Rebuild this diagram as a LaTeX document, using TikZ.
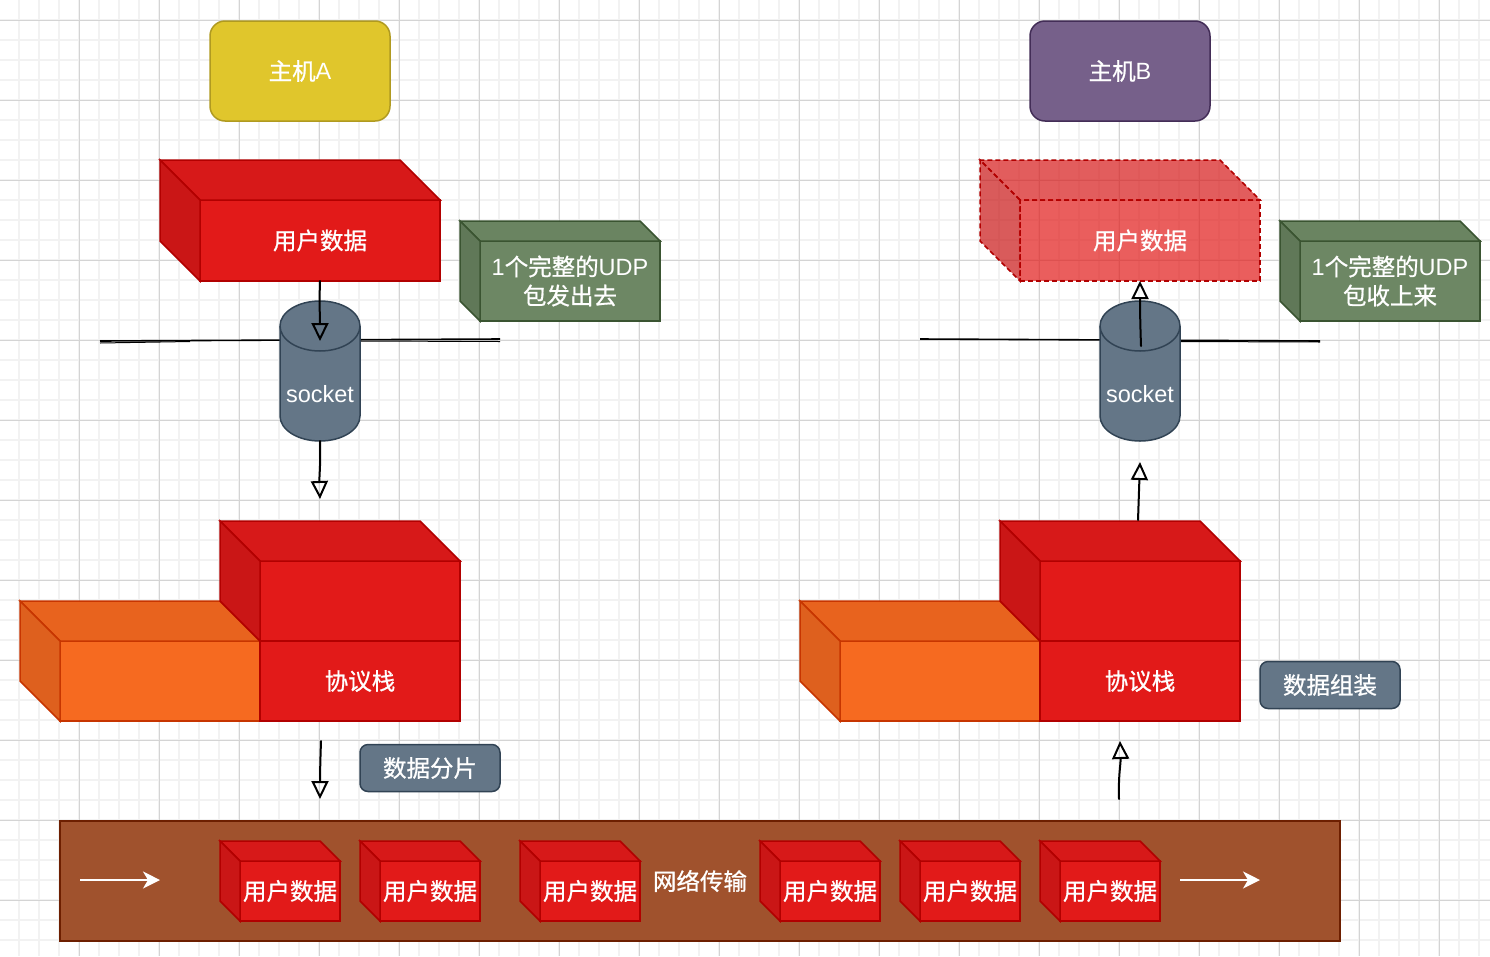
\documentclass[tikz,border=0pt]{standalone}
\usepackage{fontspec}
\setmainfont{Liberation Sans}
\newfontfamily\cjk{Noto Sans CJK SC}[FakeBold=0.8]
\usetikzlibrary{arrows.meta}
\definecolor{cRedF}{HTML}{E21A19}
\definecolor{cRedT}{HTML}{D71919}
\definecolor{cRedL}{HTML}{CA1616}
\definecolor{cRedS}{HTML}{B20000}
\definecolor{cOrgF}{HTML}{F66A20}
\definecolor{cOrgT}{HTML}{E8631E}
\definecolor{cOrgL}{HTML}{DE601E}
\definecolor{cOrgS}{HTML}{C73500}
\definecolor{cGrnF}{HTML}{6D8764}
\definecolor{cGrnT}{HTML}{6A8461}
\definecolor{cGrnL}{HTML}{607858}
\definecolor{cGrnS}{HTML}{3A5431}
\definecolor{cSlate}{HTML}{647687}
\definecolor{cSlateS}{HTML}{314354}
\definecolor{cYel}{HTML}{E0C62C}
\definecolor{cYelS}{HTML}{B09A20}
\definecolor{cPur}{HTML}{76608A}
\definecolor{cPurS}{HTML}{432D57}
\definecolor{cBrown}{HTML}{A0522D}
\definecolor{cBrownS}{HTML}{6D1F00}
\definecolor{gMinor}{HTML}{F2F2F2}
\definecolor{gMajor}{HTML}{D4D4D4}
\tikzset{
  tx/.style={text=white, font=\fontsize{23.5}{29}\selectfont, align=center},
  cubeface/.style={draw, line width=1.5pt, inner sep=0pt, outer sep=0pt, tx},
  cubeedge/.style={line width=1.5pt, line join=miter},
  gminor/.style={draw=gMinor, line width=1.2pt},
  gmajor/.style={draw=gMajor, line width=0.9pt},
  host/.style={rounded corners=15pt, line width=1.5pt, minimum width=180pt, minimum height=100pt, inner sep=0pt, tx},
  lbl/.style={rounded corners=8pt, fill=cSlate, draw=cSlateS, line width=1.5pt, minimum width=140pt, minimum height=47pt, inner sep=0pt, tx},
  skarrow/.style={draw=black, line width=2pt, line cap=round, -{Triangle[open, length=18pt, width=17pt, line width=2pt]}},
  skline/.style={draw=black, line width=1.6pt},
  warrow/.style={draw=white, line width=1.5pt, -{Stealth[length=17pt, width=17pt, inset=5pt]}},
}
% #1 name, #2 x front-left, #3 y front-top, #4 width, #5 height, #6 depth, #7 colour prefix, #8 text, #9 extra style
\newcommand{\boxcube}[9]{%
  \node[cubeface, fill=#7F, draw=#7S, minimum width=#4pt, minimum height=#5pt, anchor=north west, #9] (#1) at (#2,#3) {#8};
  \filldraw[cubeedge, fill=#7T, draw=#7S, #9] (#1.north west) -- ++(-#6,-#6) -- ([shift={(-#6,-#6)}]#1.north east) -- (#1.north east) -- cycle;
  \filldraw[cubeedge, fill=#7L, draw=#7S, #9] (#1.north west) -- ++(-#6,-#6) -- ([shift={(-#6,-#6)}]#1.south west) -- (#1.south west) -- cycle;
}
\newcommand{\sockcyl}[3]{% #1 name, #2 x centre, #3 y top
  \filldraw[fill=cSlate, draw=cSlateS, line width=1.5pt]
    (#2-40,#3+25) -- (#2-40,#3+115) arc[start angle=180, end angle=360, x radius=40pt, y radius=25pt]
    -- (#2+40,#3+25) arc[start angle=0, end angle=180, x radius=40pt, y radius=25pt] -- cycle;
  \draw[draw=cSlateS, line width=1.5pt] (#2-40,#3+25) arc[start angle=180, end angle=360, x radius=40pt, y radius=25pt];
  \node[tx, inner sep=0pt] (#1) at (#2,#3+93) {socket};
  \coordinate (#1top) at (#2,#3);
  \coordinate (#1bot) at (#2,#3+140);
}
\begin{document}
\begin{tikzpicture}[x=1pt, y=-1pt]
\useasboundingbox (0,0) rectangle (1490,956);
\fill[white] (0,0) rectangle (1490,956);
% grid
\foreach \i in {1,...,74} \draw[gminor] (\i*20-1,0) -- (\i*20-1,956);
\foreach \j in {1,...,47} \draw[gminor] (0,\j*20) -- (1490,\j*20);
\foreach \i in {1,...,18} \draw[gmajor] (\i*80-1,0) -- (\i*80-1,956);
\foreach \j in {0,...,11} \draw[gmajor] (0,\j*80+20) -- (1490,\j*80+20);

% hosts
\node[host, fill=cYel, draw=cYelS] (hostA) at (300,71) {{\cjk 主机}A};
\node[host, fill=cPur, draw=cPurS] (hostB) at (1120,71) {{\cjk 主机}B};

% ===== left side =====
\coordinate (lAs) at (100,341);
\coordinate (lAe) at (500,339);
\draw[skline] (lAs) -- (lAe);
\draw[skline, line width=1pt] (100,343) -- (190,341.5);
\draw[skline, line width=1pt] (360,341) -- (500,341.5);
\sockcyl{sockA}{320}{301}

\boxcube{udA}{200}{200}{240}{81}{40}{cRed}{{\cjk 用户数据}}{}
\boxcube{grnA}{480}{241}{180}{80}{20}{cGrn}{1{\cjk 个完整的}UDP\\{\cjk 包发出去}}{}

\boxcube{orgA}{60}{641}{200}{80}{40}{cOrg}{}{}
\boxcube{stkAu}{260}{561}{200}{80}{40}{cRed}{}{}
\node[cubeface, fill=cRedF, draw=cRedS, minimum width=200pt, minimum height=80pt, anchor=north west] (stkA) at (260,641) {{\cjk 协议栈}};

\node[lbl] (fenpian) at (430,768) {{\cjk 数据分片}};

\coordinate (a1e) at (320,341);
\coordinate (a2e) at (320,499);
\coordinate (a3s) at (321,741);
\coordinate (a3e) at (320,799);
\draw[skarrow] (udA.south) to[out=-92, in=90] (a1e);
\draw[skarrow] (sockAbot) to[out=-88, in=92] (a2e);
\draw[skarrow] (a3s) to[out=-92, in=90] (a3e);

% ===== right side =====
\coordinate (lBs) at (920,339);
\coordinate (lBe) at (1320,341);
\draw[skline] (lBs) -- (lBe);
\draw[skline, line width=1pt] (1180,341.5) -- (1320,342);
\sockcyl{sockB}{1140}{301}

\boxcube{udB}{1020}{200}{240}{81}{40}{cRed}{{\cjk 用户数据}}{fill opacity=0.7, text opacity=1, dash pattern=on 5pt off 3pt}
\boxcube{grnB}{1300}{241}{180}{80}{20}{cGrn}{1{\cjk 个完整的}UDP\\{\cjk 包收上来}}{}

\boxcube{orgB}{840}{641}{200}{80}{40}{cOrg}{}{}
\boxcube{stkBu}{1040}{561}{200}{80}{40}{cRed}{}{}
\node[cubeface, fill=cRedF, draw=cRedS, minimum width=200pt, minimum height=80pt, anchor=north west] (stkB) at (1040,641) {{\cjk 协议栈}};

\node[lbl] (zuzhuang) at (1330,685) {{\cjk 数据组装}};

\coordinate (b1s) at (1141,346);
\coordinate (b2s) at (1138,520);
\coordinate (b2e) at (1140,462);
\coordinate (b3s) at (1119,799);
\coordinate (b3e) at (1120,741);
\draw[skarrow] (b1s) to[out=92, in=-90] (udB.south);
\draw[skarrow] (b2s) to[out=88, in=-92] (b2e);
\draw[skarrow] (b3s) to[out=92, in=-88] (b3e);

% ===== network band =====
\node[fill=cBrown, draw=cBrownS, line width=1.5pt, minimum width=1280pt, minimum height=120pt, inner sep=0pt, tx] (band) at (700,881) {{\cjk 网络传输}};
\foreach \n/\x in {p1/240, p2/380, p3/540, p4/780, p5/920, p6/1060}{
  \boxcube{\n}{\x}{861}{100}{60}{20}{cRed}{{\cjk 用户数据}}{}
}
\coordinate (w1s) at (80,880);
\coordinate (w1e) at (160,880);
\coordinate (w2s) at (1180,880);
\coordinate (w2e) at (1260,880);
\draw[warrow] (w1s) -- (w1e);
\draw[warrow] (w2s) -- (w2e);
\end{tikzpicture}
\end{document}
